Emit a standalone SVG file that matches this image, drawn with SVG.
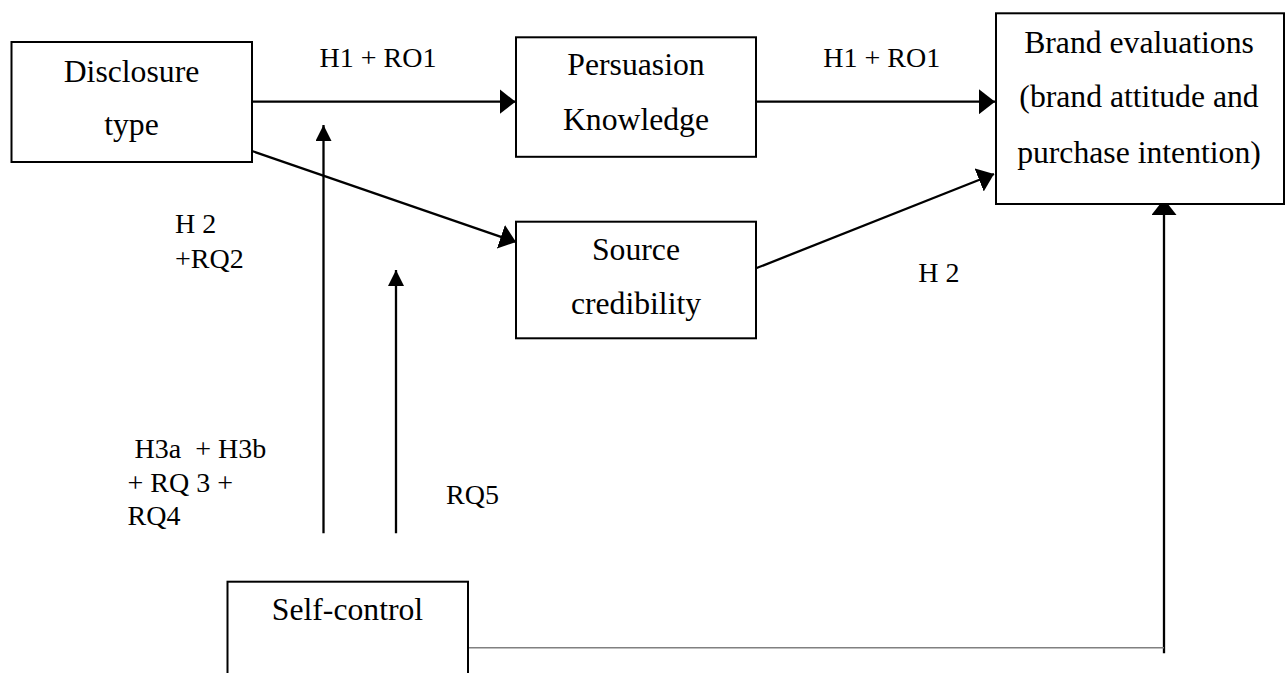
<svg xmlns="http://www.w3.org/2000/svg" width="1287" height="673" viewBox="0 0 1287 673">
<style>
.box{fill:#fff;stroke:#000;stroke-width:2}
.t{font-family:"Liberation Serif","Times New Roman",serif;font-size:31.7px;fill:#000;text-anchor:middle}
.l{font-family:"Liberation Serif","Times New Roman",serif;font-size:28px;fill:#000;white-space:pre}
.c{fill:none;stroke:#000;stroke-width:2.3}
.g{fill:none;stroke:#808080;stroke-width:1.6}
</style>
<defs>
<marker id="aw" markerUnits="userSpaceOnUse" markerWidth="16" markerHeight="25" viewBox="0 0 16 25" refX="16" refY="12.5" orient="auto">
<path d="M0,0 L16,12.5 L0,25 z" fill="#000"/>
</marker>
<marker id="an" markerUnits="userSpaceOnUse" markerWidth="16" markerHeight="16" viewBox="0 0 16 16" refX="16" refY="8" orient="auto">
<path d="M0,0 L16,8 L0,16 z" fill="#000"/>
</marker>
</defs>
<rect width="1287" height="673" fill="#fff"/>
<g id="connectors">
<line class="c" x1="252" y1="101.7" x2="515.5" y2="101.7" marker-end="url(#aw)"/>
<line class="c" x1="756" y1="101.7" x2="995" y2="101.7" marker-end="url(#aw)"/>
<line class="c" x1="252" y1="151" x2="516" y2="242" marker-end="url(#aw)"/>
<line class="c" x1="756" y1="268.3" x2="994" y2="174" marker-end="url(#aw)"/>
<line class="c" x1="323.5" y1="533.3" x2="323.5" y2="125" marker-end="url(#an)"/>
<line class="c" x1="396" y1="533.3" x2="396" y2="270" marker-end="url(#an)"/>
<line class="c" x1="1164" y1="653.3" x2="1164" y2="199" marker-end="url(#aw)"/>
<line class="g" x1="468" y1="647.7" x2="1164" y2="647.7"/>
</g>
<g id="node-disclosure">
<rect class="box" x="11.5" y="42" width="240.5" height="120"/>
<text class="t" x="131.5" y="81.7">Disclosure</text>
<text class="t" x="131.5" y="135">type</text>
</g>
<g id="node-persuasion">
<rect class="box" x="516" y="37.3" width="240" height="119.5"/>
<text class="t" x="636" y="75">Persuasion</text>
<text class="t" x="636" y="130">Knowledge</text>
</g>
<g id="node-source">
<rect class="box" x="516" y="221.7" width="240" height="116.6"/>
<text class="t" x="636" y="260">Source</text>
<text class="t" x="636" y="314">credibility</text>
</g>
<g id="node-brand">
<rect class="box" x="996" y="13.3" width="288" height="190.7"/>
<text class="t" x="1139" y="52.5">Brand evaluations</text>
<text class="t" x="1139" y="107">(brand attitude and</text>
<text class="t" x="1139" y="163">purchase intention)</text>
</g>
<g id="node-selfcontrol">
<rect class="box" x="227.5" y="581.7" width="240.5" height="120"/>
<text class="t" x="347.5" y="620">Self-control</text>
</g>
<g id="labels">
<text class="l" x="319.6" y="66.7">H1 + RO1</text>
<text class="l" x="823.3" y="66.7">H1 + RO1</text>
<text class="l" x="175" y="233.3">H 2</text>
<text class="l" x="175" y="268.3">+RQ2</text>
<text class="l" x="918.3" y="281.7">H 2</text>
<text class="l" x="127.5" y="458.3"> H3a  + H3b</text>
<text class="l" x="127.5" y="491.7">+ RQ 3 +</text>
<text class="l" x="127.5" y="525">RQ4</text>
<text class="l" x="446" y="504">RQ5</text>
</g>
</svg>
